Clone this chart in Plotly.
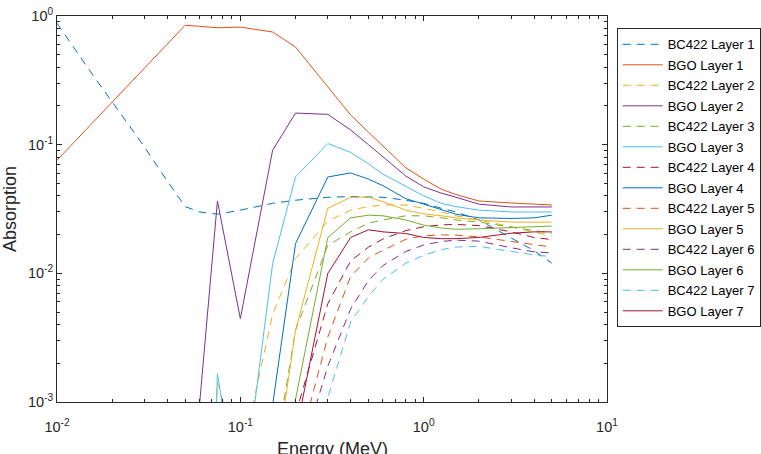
import plotly.graph_objects as go

# Energy grid (MeV)
energy = [0.01, 0.015, 0.02, 0.03, 0.04, 0.05, 0.06, 0.075, 0.1, 0.15, 0.2, 0.3,
          0.4, 0.5, 0.6, 0.8, 1.0, 1.25, 1.5, 2.0, 3.0, 4.0, 5.0]

N = None
bc422_l1 = [0.88, 0.38, 0.215, 0.096, 0.052, 0.033, 0.030, 0.0288, 0.031, 0.035, 0.037, 0.039,
            0.0395, 0.0395, 0.039, 0.037, 0.035, 0.032, 0.030, 0.026, 0.019, 0.015, 0.012]
bgo_l1 = [0.0757, 0.139, 0.214, 0.39, 0.60, 0.847, 0.832, 0.81, 0.82, 0.751, 0.574, 0.281,
          0.17, 0.125, 0.097, 0.066, 0.054, 0.045, 0.041, 0.0365, 0.0352, 0.0345, 0.034]
bc422_l2 = [N, N, N, N, N, N, 1e-6, 0.00143, 3.4e-4, 0.0048, 0.013, 0.0255,
            0.031, 0.033, 0.034, 0.034, 0.032, 0.030, 0.028, 0.026, 0.023, 0.021, 0.0195]
bgo_l2 = [N, N, N, N, N, 1e-4, 0.00098, 0.0365, 0.00445, 0.0905, 0.176, 0.172,
          0.13, 0.10, 0.08, 0.057, 0.047, 0.042, 0.039, 0.0345, 0.0328, 0.033, 0.0328]
bc422_l3 = [N, N, N, N, N, N, N, N, N, 3e-4, 0.0036, 0.0165,
            0.021, 0.0245, 0.026, 0.028, 0.028, 0.027, 0.026, 0.025, 0.023, 0.0215, 0.0205]
bgo_l3 = [N, N, N, N, N, N, 1e-7, 0.00166, 1.3e-4, 0.0119, 0.0561, 0.102,
          0.087, 0.071, 0.059, 0.047, 0.040, 0.035, 0.033, 0.031, 0.030, 0.030, 0.030]
bc422_l4 = [N, N, N, N, N, N, N, N, N, N, 8e-4, 0.0058,
            0.0125, 0.016, 0.0185, 0.0215, 0.023, 0.0238, 0.024, 0.0235, 0.021, 0.019, 0.0183]
bgo_l4 = [N, N, N, N, N, N, N, N, 1e-5, 0.00095, 0.017, 0.0561,
          0.0603, 0.054, 0.048, 0.038, 0.0345, 0.031, 0.0288, 0.027, 0.0267, 0.027, 0.0283]
bc422_l5 = [N, N, N, N, N, N, N, N, N, N, 3.6e-4, 0.0032,
            0.0095, 0.0132, 0.0151, 0.0184, 0.0196, 0.0199, 0.0198, 0.0192, 0.0177, 0.0167, 0.016]
bgo_l5 = [N, N, N, N, N, N, N, N, N, 2.2e-4, 0.0036, 0.032,
          0.039, 0.0392, 0.036, 0.031, 0.029, 0.028, 0.027, 0.026, 0.025, 0.025, 0.025]
bc422_l6 = [N, N, N, N, N, N, N, N, N, N, 2.8e-4, 0.0019,
            0.0053, 0.0088, 0.0115, 0.0148, 0.0166, 0.0177, 0.0181, 0.0178, 0.0158, 0.0147, 0.0144]
bgo_l6 = [N, N, N, N, N, N, N, N, N, 1e-5, 0.00105, 0.019,
          0.027, 0.0283, 0.028, 0.026, 0.0237, 0.0225, 0.022, 0.0222, 0.0226, 0.023, 0.0233]
bc422_l7 = [N, N, N, N, N, N, N, N, N, N, 1e-5, 0.00108,
            0.0042, 0.0066, 0.0090, 0.012, 0.0138, 0.0153, 0.016, 0.0162, 0.0148, 0.0139, 0.0135]
bgo_l7 = [N, N, N, N, N, N, N, N, N, N, 5.6e-4, 0.010,
          0.019, 0.0218, 0.021, 0.0204, 0.019, 0.0186, 0.0186, 0.019, 0.0205, 0.021, 0.021]

series_names = ["BC422 Layer 1", "BGO Layer 1", "BC422 Layer 2", "BGO Layer 2",
                "BC422 Layer 3", "BGO Layer 3", "BC422 Layer 4", "BGO Layer 4",
                "BC422 Layer 5", "BGO Layer 5", "BC422 Layer 6", "BGO Layer 6",
                "BC422 Layer 7", "BGO Layer 7"]
series_values = [bc422_l1, bgo_l1, bc422_l2, bgo_l2, bc422_l3, bgo_l3, bc422_l4, bgo_l4,
                 bc422_l5, bgo_l5, bc422_l6, bgo_l6, bc422_l7, bgo_l7]
palette = ["#0072BD", "#D95319", "#EDB120", "#7E2F8E", "#77AC30", "#4DBEEE", "#A2142F"]

x_ticks = [0.01, 0.1, 1, 10]
x_ticktext = ["10<sup>-2</sup>", "10<sup>-1</sup>", "10<sup>0</sup>", "10<sup>1</sup>"]
y_ticks = [0.001, 0.01, 0.1, 1]
y_ticktext = ["10<sup>-3</sup>", "10<sup>-2</sup>", "10<sup>-1</sup>", "10<sup>0</sup>"]
x_title = "Energy (MeV)"
y_title = "Absorption"

minor_x = [m * 10 ** p for p in range(-2, 1) for m in range(2, 10)]
minor_y = [m * 10 ** p for p in range(-3, 0) for m in range(2, 10)]

FONT = "Liberation Sans, Arial, Helvetica, sans-serif"
AX = "#262626"

fig = go.Figure()
for i, (name, vals) in enumerate(zip(series_names, series_values)):
    dashed = name.startswith("BC422")
    fig.add_trace(go.Scatter(
        x=energy, y=vals, mode="lines", name=name,
        line=dict(color=palette[i % 7], width=1, dash="8px,6px" if dashed else "solid"),
        legendgroup="g%d" % i, connectgaps=False, hoverinfo="skip"))

axis_common = dict(
    type="log", showgrid=False, zeroline=False, showline=True, linecolor=AX, linewidth=1,
    mirror="ticks", ticks="inside", ticklen=5, tickcolor=AX, tickwidth=1,
    tickfont=dict(family=FONT, size=14.5, color=AX),
    title_font=dict(family=FONT, size=18, color=AX),
)

fig.update_xaxes(**axis_common, range=[-2, 1], tickmode="array", tickvals=x_ticks,
                 ticktext=x_ticktext, ticklabelstandoff=12,
                 minor=dict(tickmode="array", tickvals=minor_x, ticks="inside", ticklen=3,
                            tickcolor=AX, tickwidth=1, showgrid=False))
fig.update_yaxes(**axis_common, range=[-3, 0], tickmode="array", tickvals=y_ticks,
                 ticktext=y_ticktext, title_text=y_title, title_standoff=6,
                 minor=dict(tickmode="array", tickvals=minor_y, ticks="inside", ticklen=3,
                            tickcolor=AX, tickwidth=1, showgrid=False))

fig.add_annotation(text=x_title, xref="paper", yref="paper", x=0.5, y=-0.122,
                   xanchor="center", yanchor="middle", showarrow=False,
                   font=dict(family=FONT, size=18, color=AX))

fig.update_layout(
    width=761, height=454,
    margin=dict(l=57, r=154, t=16, b=52, autoexpand=False),
    paper_bgcolor="white", plot_bgcolor="white",
    font=dict(family=FONT, color=AX),
    legend=dict(x=1.0176, y=0.968, xanchor="left", yanchor="top",
                bordercolor=AX, borderwidth=1, bgcolor="white",
                font=dict(family=FONT, size=13, color="#000000"),
                tracegroupgap=0.6, traceorder="grouped", itemwidth=40),
    showlegend=True,
)

fig.write_html("out.html")
